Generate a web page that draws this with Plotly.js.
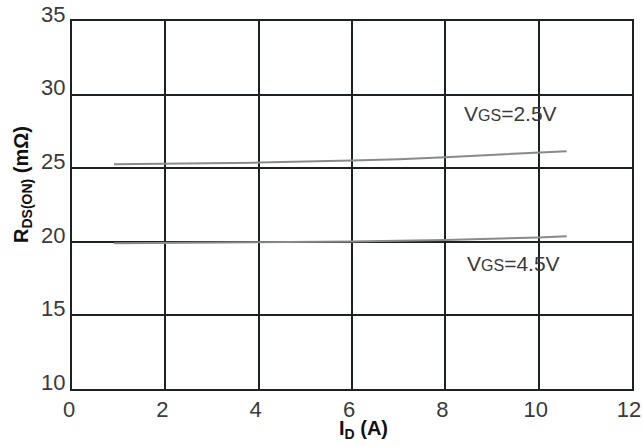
<!DOCTYPE html>
<html>
<head>
<meta charset="utf-8">
<script src="https://cdn.plot.ly/plotly-3.0.1.min.js"></script>
<style>html,body{margin:0;padding:0;background:#fff;}#chart{width:642px;height:447px;}</style>
</head>
<body>
<div id="chart"></div>
<script>
const idA_25 = [0.9, 2, 4, 6, 7, 8, 9, 10, 10.6];
const rds_25 = [25.27, 25.3, 25.38, 25.52, 25.6, 25.75, 25.9, 26.05, 26.15];
const idA_45 = [0.9, 2, 4, 6, 8, 9, 10, 10.6];
const rds_45 = [19.9, 19.92, 19.96, 20.02, 20.12, 20.2, 20.3, 20.38];
const xTicks = [0, 2, 4, 6, 8, 10, 12];
const yTicks = [10, 15, 20, 25, 30, 35];
const labels = ["V<span style='font-size:16px'>GS</span>=2.5V", "V<span style='font-size:16px'>GS</span>=4.5V"];
const labelPos = [[9.39, 28.75], [9.47, 18.56]];
const xTitle = '<b>I<sub>D</sub> (A)</b>';
const yTitle = '<b>R<sub>DS(ON)</sub> (mΩ)</b>';

const FONT = 'Liberation Sans, Arial, sans-serif';
const lineStyle = {color: '#8a8a8a', width: 2};
const traces = [
  {x: idA_25, y: rds_25, mode: 'lines', line: lineStyle, hoverinfo: 'skip'},
  {x: idA_45, y: rds_45, mode: 'lines', line: lineStyle, hoverinfo: 'skip'}
];
const axisCommon = {
  showline: true, mirror: true, linecolor: '#1c2126', linewidth: 2,
  showgrid: true, gridcolor: '#1c2126', gridwidth: 2,
  zeroline: false, ticks: '', tickfont: {family: FONT, size: 22, color: '#3a3a3a'}
};
const pw = 642 - 72 - 10, ph = 447 - 21 - 58;
const annotations = labels.map((t, i) => ({
  x: labelPos[i][0], y: labelPos[i][1], xref: 'x', yref: 'y', text: t, showarrow: false,
  font: {family: FONT, size: 21, color: '#3a3a3a'}
}));
annotations.push({
  x: (363 - 72) / pw, y: (447 - 58 - 430) / ph, xref: 'paper', yref: 'paper',
  xanchor: 'center', yanchor: 'middle', text: xTitle, showarrow: false,
  font: {family: FONT, size: 20, color: '#111'}
});
annotations.push({
  x: (22 - 72) / pw, y: (447 - 58 - 185) / ph, xref: 'paper', yref: 'paper',
  xanchor: 'center', yanchor: 'middle', text: yTitle, showarrow: false, textangle: -90,
  font: {family: FONT, size: 20, color: '#111'}
});
const layout = {
  width: 642, height: 447,
  margin: {l: 72, r: 10, t: 21, b: 58},
  paper_bgcolor: '#fff', plot_bgcolor: '#fff',
  showlegend: false,
  xaxis: Object.assign({}, axisCommon, {
    range: [0, 12], tickvals: xTicks, ticktext: xTicks.map(String),
    ticklabelshift: -3
  }),
  yaxis: Object.assign({}, axisCommon, {
    range: [10, 35], tickvals: yTicks, ticktext: yTicks.map(String),
    ticklabelshift: -7, ticklabelstandoff: 0
  }),
  annotations: annotations
};
Plotly.newPlot('chart', traces, layout, {staticPlot: true, displayModeBar: false});
</script>
</body>
</html>
